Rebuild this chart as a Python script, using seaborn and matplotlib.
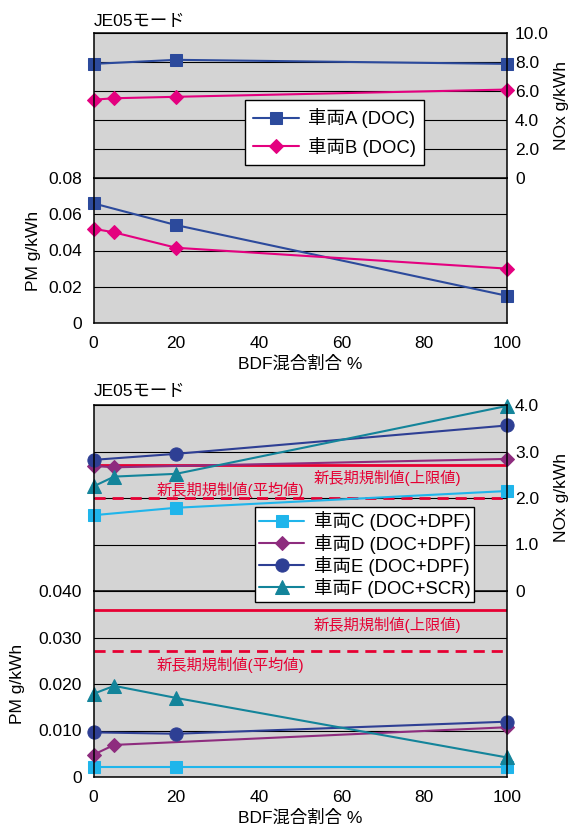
import numpy as np
import pandas as pd
import matplotlib
matplotlib.use("Agg")
import matplotlib.pyplot as plt
import seaborn as sns

# ---- data ----
bdf_ab = {'A': [0, 20, 100], 'B': [0, 5, 20, 100]}
nox_a = [7.87, 8.15, 7.87]
nox_b = [5.4, 5.5, 5.6, 6.1]
pm_a = [0.066, 0.054, 0.015]
pm_b = [0.052, 0.050, 0.0415, 0.030]

bdf_c = [0, 20, 100]
bdf_d = [0, 5, 100]
bdf_e = [0, 20, 100]
bdf_f = [0, 5, 20, 100]
nox_c = [1.63, 1.79, 2.15]
nox_d = [2.69, 2.66, 2.84]
nox_e = [2.82, 2.95, 3.56]
nox_f = [2.25, 2.46, 2.52, 3.98]
pm_c = [0.0022, 0.0022, 0.0022]
pm_d = [0.0048, 0.0069, 0.0107]
pm_e = [0.0096, 0.0093, 0.0119]
pm_f = [0.0179, 0.0196, 0.0170, 0.0042]

nox_limit_max, nox_limit_avg = 2.7, 2.0
pm_limit_max, pm_limit_avg = 0.036, 0.027

x_ticks = [0, 20, 40, 60, 80, 100]
nox_ticks_1 = [0, 2, 4, 6, 8, 10]
nox_labels_1 = ['0', '2.0', '4.0', '6.0', '8.0', '10.0']
pm_ticks_1 = [0, 0.02, 0.04, 0.06, 0.08]
pm_labels_1 = ['0', '0.02', '0.04', '0.06', '0.08']
nox_ticks_2 = [0, 1, 2, 3, 4]
nox_labels_2 = ['0', '1.0', '2.0', '3.0', '4.0']
pm_ticks_2 = [0, 0.01, 0.02, 0.03, 0.04]
pm_labels_2 = ['0', '0.010', '0.020', '0.030', '0.040']

series_1 = [
    ('車両A (DOC)', bdf_ab['A'], nox_a, pm_a, '#2C4A9C', 's', 8.5),
    ('車両B (DOC)', bdf_ab['B'], nox_b, pm_b, '#E4007F', 'D', 7.5),
]
series_2 = [
    ('車両C (DOC+DPF)', bdf_c, nox_c, pm_c, '#1FB5EB', 's', 8.5),
    ('車両D (DOC+DPF)', bdf_d, nox_d, pm_d, '#8E2C7E', 'D', 7.5),
    ('車両E (DOC+DPF)', bdf_e, nox_e, pm_e, '#2E3F94', 'o', 9.5),
    ('車両F (DOC+SCR)', bdf_f, nox_f, pm_f, '#13849A', '^', 9.5),
]

RED = '#E60033'
BG = '#D4D4D4'

sns.set_style("white")
plt.rcParams['font.family'] = ['Liberation Sans', 'Noto Sans CJK JP']
plt.rcParams['font.size'] = 12.5
for key in ['text.color', 'axes.labelcolor', 'xtick.color', 'ytick.color']:
    plt.rcParams[key] = 'black'

fig = plt.figure(figsize=(5.72, 8.31), dpi=100)

W, H = 572, 831
L, R = 93.5, 507


def box(top, bottom):
    return [L / W, 1 - bottom / H, (R - L) / W, (bottom - top) / H]


def style_axes(ax, ymax, ticks, labels, side):
    ax.set_facecolor(BG)
    ax.set_xlim(0, 100)
    ax.set_ylim(0, ymax)
    ax.set_xticks(x_ticks)
    ax.set_yticks(ticks)
    ax.set_yticklabels(labels)
    ax.yaxis.grid(True, color='black', linewidth=0.8)
    ax.xaxis.grid(False)
    for s in ax.spines.values():
        s.set_color('black')
        s.set_linewidth(1.1)
    ax.tick_params(axis='x', direction='in', length=5, width=1, color='black',
                   pad=9, labelsize=12.5)
    if side == 'right':
        ax.yaxis.tick_right()
        ax.yaxis.set_label_position('right')
        ax.tick_params(axis='y', length=0, pad=5.8, labelsize=12.5)
    else:
        ax.tick_params(axis='y', length=0, pad=8.3, labelsize=12.5)


def panel(top, mid, bottom, series, nox_max, nox_t, nox_l, pm_max, pm_t, pm_l,
          leg_anchor, leg_space, leg_pad, pm_label_x, limits=False):
    axN = fig.add_axes(box(top, mid))
    axP = fig.add_axes(box(mid, bottom))
    axN.set_zorder(3)
    axP.set_zorder(2)
    style_axes(axN, nox_max, nox_t, nox_l, 'right')
    style_axes(axP, pm_max, pm_t, pm_l, 'left')
    axN.tick_params(axis='x', labelbottom=False)

    if limits:
        dash = (0, (4, 2.5))
        axN.axhline(nox_limit_max, color=RED, lw=2)
        axN.axhline(nox_limit_avg, color=RED, lw=2, ls=dash)
        axP.axhline(pm_limit_max, color=RED, lw=2)
        axP.axhline(pm_limit_avg, color=RED, lw=2, ls=dash)
        for ax, ymax_lab, yavg_lab in [(axN, 2.44, 2.18), (axP, 0.0328, 0.0240)]:
            ax.text(71, ymax_lab, '新長期規制値(上限値)', color=RED, fontsize=11,
                    ha='center', va='center')
            ax.text(33, yavg_lab, '新長期規制値(平均値)', color=RED, fontsize=11,
                    ha='center', va='center')

    for name, xs, nox, pm, col, mk, ms in series:
        kw = dict(color=col, marker=mk, markersize=ms, markeredgecolor=col,
                  linewidth=1.5, clip_on=False)
        sns.lineplot(x=xs, y=nox, ax=axN, label=name, **kw)
        sns.lineplot(x=xs, y=pm, ax=axP, legend=False, **kw)

    axN.set_xlabel('')
    axP.set_xlabel('BDF混合割合 %', fontsize=12.5, labelpad=4)
    axN.set_ylabel('NOx g/kWh', fontsize=12.5)
    axP.set_ylabel('PM g/kWh', fontsize=12.5)
    axN.yaxis.set_label_coords((554 - L) / (R - L), 0.5)
    axP.yaxis.set_label_coords((pm_label_x - L) / (R - L), 0.5)

    leg = axN.legend(loc='lower left', bbox_to_anchor=leg_anchor, borderaxespad=0,
                     frameon=True, fancybox=False, framealpha=1, edgecolor='black',
                     handlelength=2.45, handletextpad=0.5, labelspacing=leg_space,
                     borderpad=leg_pad, fontsize=13.3)
    leg.get_frame().set_linewidth(1)
    axN.text(0, 1.03, 'JE05モード', transform=axN.transAxes, fontsize=12.5,
             ha='left', va='bottom')
    return axN, axP


panel(33, 178, 323, series_1, 10, nox_ticks_1, nox_labels_1, 0.08, pm_ticks_1,
      pm_labels_1, ((245 - L) / (R - L), (178 - 165) / 145), 0.46, 0.45, 41)
panel(405, 591, 777, series_2, 4, nox_ticks_2, nox_labels_2, 0.04, pm_ticks_2,
      pm_labels_2, ((255 - L) / (R - L), (591 - 602) / 186), 0.12, 0.22, 25,
      limits=True)

fig.savefig('out.png', dpi=100)
